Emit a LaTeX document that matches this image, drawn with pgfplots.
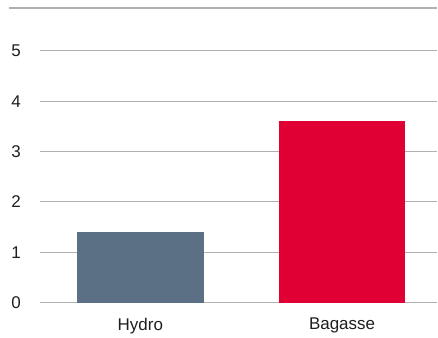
\documentclass[border=0pt]{standalone}
\usepackage{pgfplots}
\pgfplotsset{compat=1.18}
\usepackage{fontspec}
\setmainfont{Liberation Sans}
\definecolor{hydro}{RGB}{91,112,132}
\definecolor{bagasse}{RGB}{225,0,52}
\definecolor{gridc}{RGB}{176,176,176}
\definecolor{txt}{RGB}{30,30,30}
\begin{document}
\begin{tikzpicture}
\begin{axis}[
  scale only axis,
  width=398pt, height=295pt,
  xmin=-0.4975, xmax=1.4728,
  ymin=0, ymax=5.853,
  axis lines=none,
  ybar, bar width=127pt,
  xtick={0,1}, xticklabels={Hydro,Bagasse},
  ytick={0,1,2,3,4,5},
  ymajorgrids=true,
  grid style={gridc, line width=1.1pt},
  major tick length=0pt,
  tick label style={font=\fontsize{17}{20}\selectfont, text=txt},
  yticklabel style={anchor=east, inner sep=0pt, xshift=-19pt},
  xticklabel style={anchor=north, inner sep=0pt, yshift=-15pt},
  /pgf/number format/assume math mode=true,
  hide x axis=false, hide y axis=false,
  x axis line style={draw=none}, y axis line style={draw=none},
  clip=false,
]
\addplot[fill=hydro, draw=none, bar shift=0pt] coordinates {(0,1.4)};
\addplot[fill=bagasse, draw=none, bar shift=0pt] coordinates {(1,3.6)};
\draw[gridc, line width=1.1pt] (rel axis cs:-0.0779,1) -- (rel axis cs:1,1);
\path (rel axis cs:-0.1005,1.0271) rectangle (rel axis cs:1,-0.1186);
\end{axis}
\end{tikzpicture}
\end{document}
